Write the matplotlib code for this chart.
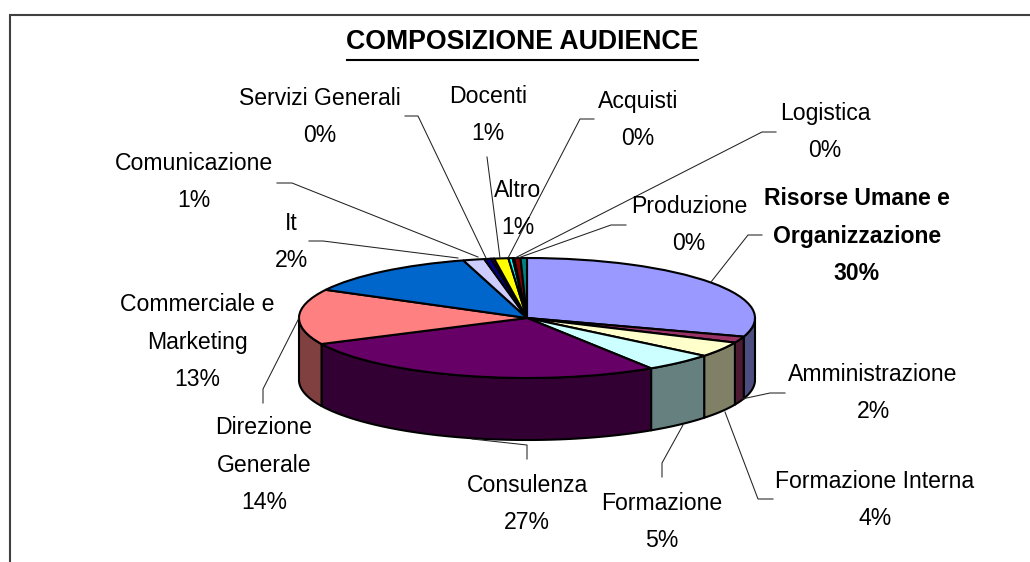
import numpy as np
import matplotlib
matplotlib.use('Agg')
import matplotlib.pyplot as plt
from matplotlib.colors import to_rgb

slice_names = ['Risorse Umane e\nOrganizzazione', 'Amministrazione', 'Formazione Interna', 'Formazione',
               'Consulenza', 'Direzione\nGenerale', 'Commerciale e\nMarketing', 'It', 'Comunicazione',
               'Servizi Generali', 'Docenti', 'Altro', 'Acquisti', 'Logistica', 'Produzione']
slice_values = [30.0, 1.7, 4.1, 5.0, 27.0, 14.9, 12.7, 1.5, 0.5, 0.2, 1.0, 0.3, 0.1, 0.45, 0.45]
pct_labels = ['30%', '2%', '4%', '5%', '27%', '14%', '13%', '2%', '1%', '0%', '1%', '1%', '0%', '0%', '0%']
slice_colors = ['#9999FF', '#993366', '#FFFFCC', '#CCFFFF', '#660066', '#FF8080', '#0066CC', '#CCCCFF',
                '#000080', '#FF00FF', '#FFFF00', '#00FFFF', '#800080', '#800000', '#008080']

# layout in image pixels
W, H = 1030, 562
CX, CY, RX, RY = 527, 318, 228, 60
DEPTH = 62 / RY
label_pos = [(857, 236), (873, 393), (875, 500), (662, 522), (527, 504), (264, 465), (197, 342),
             (291, 242), (194, 182), (320, 117), (488, 115), (518, 209), (638, 120), (825, 132), (689, 225)]
leaders = [
    [(711, 282), (748, 235), (762, 235)],
    [(742, 399), (770, 393), (785, 393)],
    [(725, 412), (758, 499), (773, 499)],
    [(683, 425), (662, 463), (662, 477)],
    [(472, 439), (527, 445), (527, 459)],
    [(299, 318), (263, 389), (263, 403)],
    [(458, 258), (323, 241), (309, 241)],
    [(478, 257), (292, 183), (277, 183)],
    [(486, 258), (418, 116), (405, 116)],
    [(500, 258), (487, 157)],
    [(508, 258), (580, 119), (594, 119)],
    [(515, 258), (762, 132), (776, 132)],
    [(518, 258), (611, 225), (626, 225)],
]

plt.rcParams['font.family'] = ['Liberation Sans', 'DejaVu Sans']

fig = plt.figure(figsize=(W / 100, H / 100), dpi=100, facecolor='white')

# overlay in pixel coordinates for frame, text and leader lines
ax = fig.add_axes([0, 0, 1, 1], zorder=3)
ax.set_xlim(0, W)
ax.set_ylim(H, 0)
ax.axis('off')

# pie axes, unit radius maps to the ellipse
pie_ax = fig.add_axes([0, 0, 1, 1], zorder=2)
pie_ax.patch.set_alpha(0)

# side wall, front half only
ends = np.cumsum(slice_values) / np.sum(slice_values) * 360
starts = np.r_[0, ends[:-1]]
for t0, t1, col in zip(starts, ends, slice_colors):
    a0, a1 = max(t0, 90), min(t1, 270)
    if a1 <= a0:
        continue
    th = np.radians(np.linspace(a0, a1, 80))
    x = np.sin(th)
    y = np.cos(th)
    dark = tuple(c * 0.5 for c in to_rgb(col))
    pie_ax.fill(np.r_[x, x[::-1]], np.r_[y, y[::-1] - DEPTH], facecolor=dark,
                edgecolor='black', linewidth=1.5, joinstyle='round')

pie_ax.pie(slice_values, colors=slice_colors, startangle=90, counterclock=False, radius=1,
           wedgeprops={'edgecolor': 'black', 'linewidth': 1.5})
pie_ax.set_aspect('auto')
pie_ax.set_xlim(-CX / RX, (W - CX) / RX)
pie_ax.set_ylim((CY - H) / RY, CY / RY)
pie_ax.axis('off')

# frame: only top and left edges show
ax.plot([10, 10, W], [H, 15, 15], color='#404040', lw=1.5, solid_joinstyle='miter')

for pts in leaders:
    xs, ys = zip(*pts)
    ax.plot(xs, ys, color='#222222', lw=0.75)

ax.text(522, 42, 'COMPOSIZIONE AUDIENCE', ha='center', va='center', fontsize=19.2, fontweight='bold',
        color='black')
ax.plot([347, 698], [60, 60], color='black', lw=1.5)

for i, (name, pct) in enumerate(zip(slice_names, pct_labels)):
    ax.text(label_pos[i][0], label_pos[i][1], name + '\n' + pct, ha='center', va='center',
            fontsize=16.6, linespacing=1.8, color='black', zorder=5,
            fontweight='bold' if i == 0 else 'normal')

fig.savefig('out.png', dpi=100)
